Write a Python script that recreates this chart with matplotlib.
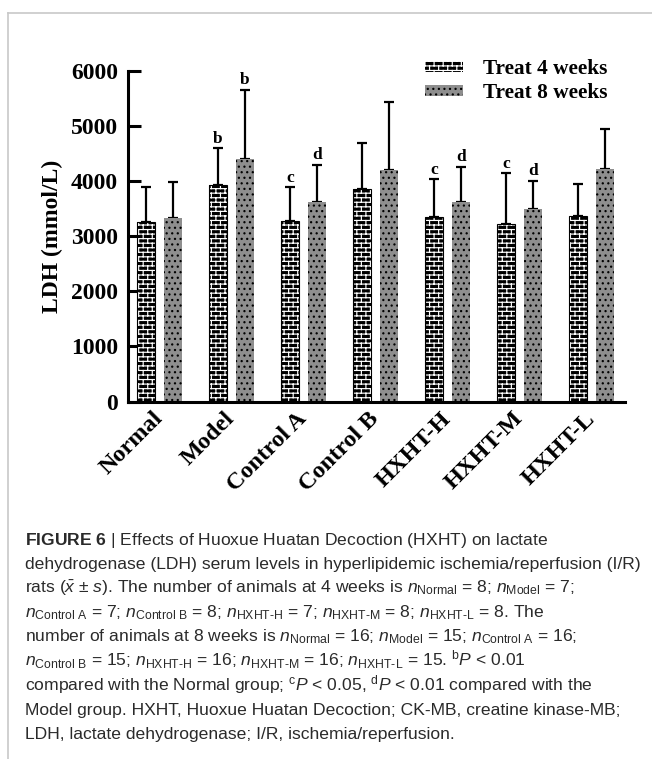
import matplotlib
matplotlib.use("Agg")
import matplotlib.pyplot as plt
import matplotlib.hatch as mhatch
import matplotlib.patches as mpatches
from matplotlib.lines import Line2D
from matplotlib.path import Path
import numpy as np

GROUPS = ['Normal', 'Model', 'Control A', 'Control B', 'HXHT-H', 'HXHT-M', 'HXHT-L']
MEAN_4W = [3264, 3931, 3283, 3858, 3344, 3217, 3368]
SD_4W = [636, 666, 606, 830, 690, 926, 581]
MEAN_8W = [3337, 4403, 3628, 4203, 3628, 3495, 4221]
SD_8W = [654, 1252, 666, 1240, 635, 508, 726]
SIG_4W = ['', 'b', 'c', '', 'c', 'c', '']
SIG_8W = ['', 'b', 'd', '', 'd', 'd', '']
SERIES = ['Treat 4 weeks', 'Treat 8 weeks']
YTICKS = [0, 1000, 2000, 3000, 4000, 5000, 6000]


class BrickHatch(mhatch.HatchPatternBase):
    """'-' draws staggered brick courses instead of plain lines."""

    def __init__(self, hatch, density):
        rows = 22 if hatch.count('-') else 0
        cols = 11
        segs = []
        h = 1.0 / rows if rows else 0
        for r in range(rows):
            y = (r + 0.5) * h
            segs.append(((0.0, y), (1.0, y)))
            off = 0.5 if r % 2 else 0.0
            for c in range(cols):
                x = (c + 0.25 + off) / cols
                y1 = y + h
                if y1 > 1:
                    segs.append(((x, y), (x, 1.0)))
                    segs.append(((x, 0.0), (x, y1 - 1)))
                else:
                    segs.append(((x, y), (x, y1)))
        self.segs = segs
        self.num_vertices = 2 * len(segs)

    def set_vertices_and_codes(self, vertices, codes):
        for i, (a, b) in enumerate(self.segs):
            vertices[2 * i] = a
            vertices[2 * i + 1] = b
            codes[2 * i] = Path.MOVETO
            codes[2 * i + 1] = Path.LINETO


mhatch._hatch_types = [BrickHatch if t is mhatch.HorizontalHatch else t
                       for t in mhatch._hatch_types]

plt.rcParams['font.family'] = 'Liberation Serif'
plt.rcParams['hatch.linewidth'] = 0.85
plt.rcParams['mathtext.fontset'] = 'custom'
plt.rcParams['mathtext.rm'] = 'Liberation Sans'
plt.rcParams['mathtext.it'] = 'Liberation Sans:italic'
plt.rcParams['mathtext.bf'] = 'Liberation Sans:bold'

GRAY = '#8e8e8e'
BOLD = {'family': 'Liberation Serif', 'weight': 'bold'}

fig = plt.figure(figsize=(6.52, 7.59), dpi=100)
ax = fig.add_axes([0.196, 0.471, 0.7626, 0.4355])

x = np.arange(len(GROUPS))
w = 0.257
d = 0.188

# 4-week bars: black bricks with white mortar, then a thin outline
ax.bar(x - d, MEAN_4W, w, facecolor='black', edgecolor='white', linewidth=0, hatch='-', zorder=2)
ax.bar(x - d, MEAN_4W, w, fill=False, edgecolor='black', linewidth=0.8, zorder=3)
# 8-week bars: gray with black dots
ax.bar(x + d, MEAN_8W, w, facecolor=GRAY, edgecolor='black', linewidth=0, hatch='...', zorder=2)

ax.errorbar(x - d, MEAN_4W, yerr=[np.zeros(len(x)), SD_4W], fmt='none', ecolor='black',
            elinewidth=1.6, capsize=3.6, capthick=1.6, zorder=1)
ax.errorbar(x + d, MEAN_8W, yerr=[np.zeros(len(x)), SD_8W], fmt='none', ecolor='black',
            elinewidth=1.6, capsize=3.6, capthick=1.6, zorder=1)

for xi, m, s, t in zip(x - d, MEAN_4W, SD_4W, SIG_4W):
    if t:
        ax.text(xi, m + s + 30, t, ha='center', va='bottom', fontsize=12.5, **BOLD)
for xi, m, s, t in zip(x + d, MEAN_8W, SD_8W, SIG_8W):
    if t:
        ax.text(xi, m + s + 30, t, ha='center', va='bottom', fontsize=12.5, **BOLD)

ax.set_xlim(-0.4375, 6.465)
ax.set_ylim(0, 6000)
ax.set_yticks(YTICKS)
ax.set_xticks(x)
ax.set_xticklabels(GROUPS, rotation=45, ha='right', va='center', rotation_mode='anchor')
ax.tick_params(axis='y', direction='in', length=9, width=2.2, labelsize=17, pad=7)
ax.tick_params(axis='x', length=0, labelsize=17.5, pad=10)
for lab in ax.get_xticklabels() + ax.get_yticklabels():
    lab.set_fontweight('bold')
ax.spines['top'].set_visible(False)
ax.spines['right'].set_visible(False)
ax.spines['left'].set_linewidth(2.2)
ax.spines['bottom'].set_linewidth(2.2)
ax.set_ylabel('LDH (mmol/L)', fontsize=17, labelpad=6, **BOLD)

handles = [
    mpatches.Patch(facecolor='black', edgecolor='white', linewidth=0, hatch='-'),
    mpatches.Patch(facecolor=GRAY, edgecolor='black', linewidth=0, hatch='...'),
]
fig.legend(handles, SERIES, loc='upper left', bbox_to_anchor=(0.652, 0.922),
           frameon=False, handlelength=1.78, handleheight=0.38,
           handletextpad=0.95, labelspacing=0.18, borderpad=0, borderaxespad=0,
           prop={'family': 'Liberation Serif', 'weight': 'bold', 'size': 15.3})

# page frame lines
fig.add_artist(Line2D([8 / 652, 1.0], [1 - 13 / 759, 1 - 13 / 759], color='#c8c8c8', lw=1.2))
fig.add_artist(Line2D([8 / 652, 8 / 652], [0.0, 1 - 13 / 759], color='#c8c8c8', lw=1.2))

HY = '\u2010'
caption = [
    r"$\mathbf{FIGURE\ 6}$ | Effects of Huoxue Huatan Decoction (HXHT) on lactate",
    "dehydrogenase (LDH) serum levels in hyperlipidemic ischemia/reperfusion (I/R)",
    r"rats ($\bar{x}$ ± $s$). The number of animals at 4 weeks is $n_{\mathrm{Normal}}$ = 8; $n_{\mathrm{Model}}$ = 7;",
    r"$n_{\mathrm{Control\ A}}$ = 7; $n_{\mathrm{Control\ B}}$ = 8; $n_{\mathrm{HXHT" + HY + r"H}}$ = 7; "
    r"$n_{\mathrm{HXHT" + HY + r"M}}$ = 8; $n_{\mathrm{HXHT" + HY + r"L}}$ = 8. The",
    r"number of animals at 8 weeks is $n_{\mathrm{Normal}}$ = 16; $n_{\mathrm{Model}}$ = 15; $n_{\mathrm{Control\ A}}$ = 16;",
    r"$n_{\mathrm{Control\ B}}$ = 15; $n_{\mathrm{HXHT" + HY + r"H}}$ = 16; $n_{\mathrm{HXHT" + HY + r"M}}$ = 16; "
    r"$n_{\mathrm{HXHT" + HY + r"L}}$ = 15. $^{\mathrm{b}}P$ < 0.01",
    r"compared with the Normal group; $^{\mathrm{c}}P$ < 0.05, $^{\mathrm{d}}P$ < 0.01 compared with the",
    "Model group. HXHT, Huoxue Huatan Decoction; CK-MB, creatine kinase-MB;",
    "LDH, lactate dehydrogenase; I/R, ischemia/reperfusion.",
]
for i, line in enumerate(caption):
    y = 544.5 + i * 24.3
    fig.text(25 / 652, 1 - y / 759, line, ha='left', va='baseline', fontsize=12.6,
             family='Liberation Sans', fontweight='normal', color='#2a2a2a')

fig.savefig('out.png', dpi=100)
